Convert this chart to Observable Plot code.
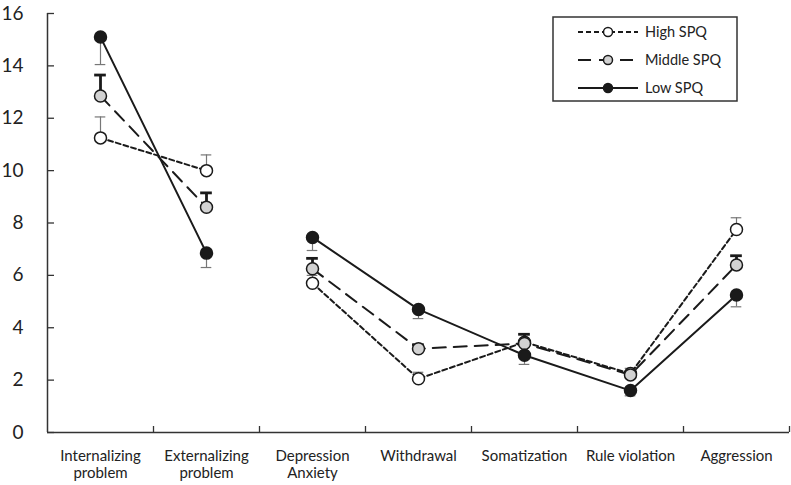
<!DOCTYPE html>
<html>
<head>
<meta charset="utf-8">
<script src="https://cdn.jsdelivr.net/npm/d3@7"></script>
<script src="https://cdn.jsdelivr.net/npm/@observablehq/plot@0.6"></script>
<style>
  html, body { margin: 0; padding: 0; background: #fff; }
  #chart { width: 791px; height: 485px; position: relative; }
  svg { font-family: Lato, "Open Sans", sans-serif; }
</style>
</head>
<body>
<div id="chart"></div>
<script>
const categories = ["Internalizing\nproblem", "Externalizing\nproblem", "Depression\nAnxiety", "Withdrawal", "Somatization", "Rule violation", "Aggression"];
const seriesNames = ["High SPQ", "Middle SPQ", "Low SPQ"];
const highValues   = [11.25, 10.0, 5.7, 2.05, 3.45, 2.25, 7.75];
const middleValues = [12.85, 8.6, 6.25, 3.2, 3.4, 2.2, 6.4];
const lowValues    = [15.1, 6.85, 7.45, 4.7, 2.95, 1.6, 5.25];
// error bar lengths (high & middle drawn upward, low drawn downward)
const highErr   = [0.8, 0.6, 0.3, 0.25, 0.3, 0.2, 0.45];
const middleErr = [0.8, 0.55, 0.4, 0.15, 0.35, 0.1, 0.35];
const lowErr    = [1.05, 0.55, 0.5, 0.35, 0.35, 0.2, 0.45];
const yTicks = [0, 2, 4, 6, 8, 10, 12, 14, 16];

const styles = {
  "High SPQ":   {dash: "5,3",  fill: "#ffffff", dir: 1,  capColor: "#777", capWidth: 1.2, capHalf: 0.05},
  "Middle SPQ": {dash: "13,8", fill: "#d2d2d2", dir: 1,  capColor: "#1a1a1a", capWidth: 2.8, capHalf: 0.055},
  "Low SPQ":    {dash: null,   fill: "#1a1a1a", dir: -1, capColor: "#777", capWidth: 1.2, capHalf: 0.05}
};
const valuesBy = {"High SPQ": highValues, "Middle SPQ": middleValues, "Low SPQ": lowValues};
const errBy = {"High SPQ": highErr, "Middle SPQ": middleErr, "Low SPQ": lowErr};

const rows = [];
for (const s of seriesNames) {
  valuesBy[s].forEach((v, i) => {
    rows.push({series: s, i, v, seg: i < 2 ? 0 : 1, end: v + styles[s].dir * errBy[s][i]});
  });
}

const marks = [];
// axes
marks.push(Plot.ruleY([0], {stroke: "#333", strokeWidth: 1.5}));
marks.push(Plot.ruleX([-0.5], {y1: 0, y2: 16, stroke: "#333", strokeWidth: 1.5}));
marks.push(Plot.axisY(yTicks, {tickSize: 0, tickPadding: 24, fontSize: 19, fill: "#222", label: null}));
marks.push(Plot.axisY(yTicks, {tickSize: -7, tickFormat: () => "", stroke: "#333", strokeWidth: 1.3, label: null}));
marks.push(Plot.axisX(d3.range(categories.length), {tickSize: 0, tickPadding: 16, fontSize: 15, fill: "#222", lineHeight: 1.15, tickFormat: i => categories[i], textAnchor: "middle", label: null}));
marks.push(Plot.axisX(d3.range(categories.length).map(i => i + 0.5), {tickSize: -6, tickFormat: () => "", stroke: "#333", strokeWidth: 1.3, label: null}));

// error bars
for (const s of seriesNames) {
  const st = styles[s];
  const d = rows.filter(r => r.series === s);
  marks.push(Plot.ruleX(d, {x: "i", y1: "v", y2: "end", stroke: st.capColor, strokeWidth: st.capWidth}));
  marks.push(Plot.ruleY(d, {y: "end", x1: r => r.i - st.capHalf, x2: r => r.i + st.capHalf, stroke: st.capColor, strokeWidth: st.capWidth}));
}
// lines
for (const s of seriesNames) {
  const st = styles[s];
  const d = rows.filter(r => r.series === s);
  marks.push(Plot.line(d, {x: "i", y: "v", z: "seg", stroke: "#1a1a1a", strokeWidth: 2, strokeDasharray: st.dash}));
}
// dots
for (const s of seriesNames) {
  const st = styles[s];
  const d = rows.filter(r => r.series === s);
  marks.push(Plot.dot(d, {x: "i", y: "v", r: 6, fill: st.fill, stroke: "#1a1a1a", strokeWidth: 1.5}));
}

const chart = Plot.plot({
  width: 791,
  height: 485,
  marginLeft: 47,
  marginRight: 2,
  marginTop: 13,
  marginBottom: 53,
  x: {type: "linear", domain: [-0.5, categories.length - 0.5], axis: null},
  y: {domain: [0, 16], axis: null},
  style: {fontFamily: "Lato, 'Open Sans', sans-serif", background: "#fff", overflow: "visible"},
  marks
});
document.getElementById("chart").appendChild(chart);

// legend inside the plot area
const svg = d3.select(chart);
const lg = svg.append("g").attr("transform", "translate(553,17)");
lg.append("rect").attr("width", 184).attr("height", 84).attr("fill", "#fff").attr("stroke", "#333").attr("stroke-width", 1.5);
seriesNames.forEach((s, k) => {
  const st = styles[s];
  const y = 15 + k * 28;
  lg.append("line").attr("x1", 25).attr("x2", 85).attr("y1", y).attr("y2", y)
    .attr("stroke", "#1a1a1a").attr("stroke-width", 2).attr("stroke-dasharray", st.dash);
  lg.append("circle").attr("cx", 55).attr("cy", y).attr("r", 4.5).attr("fill", st.fill).attr("stroke", "#1a1a1a").attr("stroke-width", 1.5);
  lg.append("text").attr("x", 92).attr("y", y).attr("dy", "0.35em").attr("text-anchor", "start")
    .attr("font-size", 14.5).attr("fill", "#222").text(s);
});
</script>
</body>
</html>
